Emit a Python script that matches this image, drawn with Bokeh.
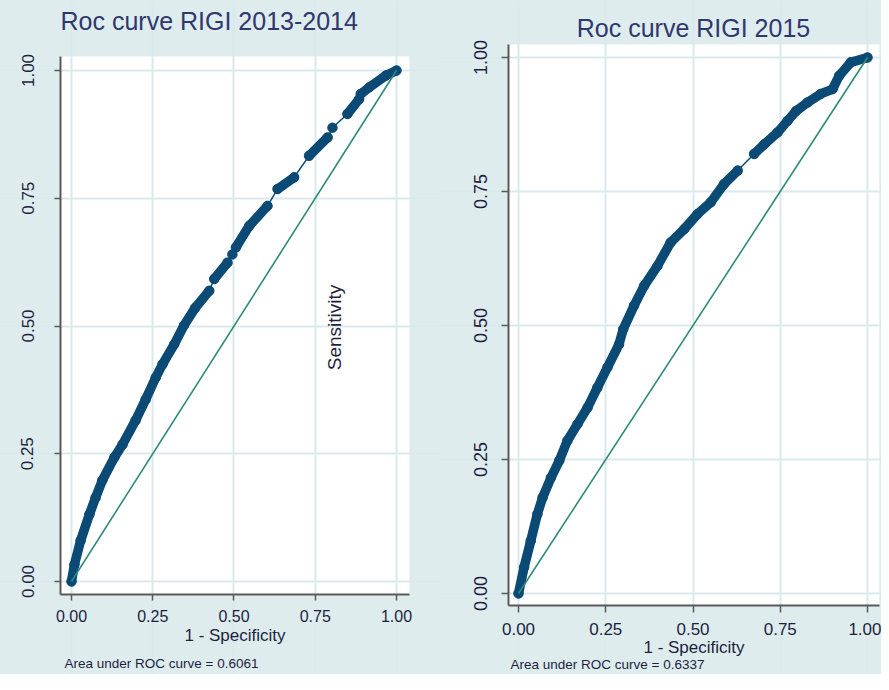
import math
from bokeh.plotting import figure
from bokeh.models import FixedTicker, Label, Range1d, NumeralTickFormatter, BoxAnnotation
from bokeh.layouts import row
from bokeh.embed import file_html
from bokeh.resources import INLINE

# ---------------- data ----------------
ticks = [0.0, 0.25, 0.5, 0.75, 1.0]
tick_labels = ["0.00", "0.25", "0.50", "0.75", "1.00"]

titles = ["Roc curve RIGI 2013-2014", "Roc curve RIGI 2015"]
auc_texts = ["Area under ROC curve = 0.6061", "Area under ROC curve = 0.6337"]
x_title = "1 - Specificity"
y_title = "Sensitivity"

# 2013-2014 ROC curve (1 - specificity, sensitivity)
left_fpr = [0.0, 0.009, 0.028, 0.055, 0.074, 0.095, 0.132, 0.157, 0.197, 0.228,
            0.259, 0.28, 0.316, 0.346, 0.38, 0.424,
            0.439, 0.48,
            0.495,
            0.506, 0.547, 0.603,
            0.634, 0.685,
            0.731, 0.788,
            0.803,
            0.849, 0.885,
            0.89, 0.916, 0.967, 1.0]
left_tpr = [0.0, 0.033, 0.08, 0.131, 0.164, 0.198, 0.243, 0.268, 0.315, 0.356,
            0.399, 0.425, 0.464, 0.501, 0.535, 0.569,
            0.592, 0.624,
            0.64,
            0.654, 0.696, 0.735,
            0.768, 0.791,
            0.833, 0.869,
            0.888,
            0.915, 0.944,
            0.954, 0.967, 0.99, 1.0]
# clusters of overlapping markers (index ranges into the arrays above)
left_runs = [(0, 15), (16, 17), (19, 21), (22, 23), (24, 25), (27, 28), (29, 32)]

# 2015 ROC curve
right_fpr = [0.0, 0.016, 0.035, 0.054, 0.069, 0.093, 0.117, 0.14, 0.169, 0.198,
             0.226, 0.255, 0.288, 0.30, 0.331, 0.36, 0.398, 0.436, 0.475, 0.513,
             0.551, 0.589, 0.628,
             0.675, 0.704, 0.742, 0.771, 0.795, 0.828, 0.866, 0.9, 0.919, 0.952, 1.0]
right_tpr = [0.0, 0.049, 0.098, 0.148, 0.179, 0.216, 0.248, 0.285, 0.316, 0.347,
             0.384, 0.422, 0.465, 0.493, 0.537, 0.574, 0.611, 0.655, 0.68, 0.708,
             0.73, 0.764, 0.789,
             0.82, 0.838, 0.86, 0.882, 0.9, 0.916, 0.932, 0.941, 0.966, 0.991, 1.0]
right_runs = [(0, 22), (23, 33)]

diag = [0.0, 1.0]

# ---------------- style ----------------
BG = "#deecee"
GRID = "#d9e9ec"
NAVY = "#0b4a74"
TEAL = "#2e8b78"
AXIS = "#5a5a5a"
TXT = "#1d1f3f"
TITLE_C = "#30376f"
FONT = "Liberation Sans"
H = 674


def make_panel(width, xr, yr, box_x, box_y, fpr, tpr, runs,
               title, auc, ysz, xsz, ystand, xstand, tick_out, xlab_stand,
               title_pos, title_align, auc_pos, sens=None):
    p = figure(width=width, height=H, x_range=Range1d(*xr), y_range=Range1d(*yr),
               output_backend="svg", toolbar_location=None, title=None,
               min_border_left=0, min_border_right=0, min_border_top=0,
               min_border_bottom=0)
    p.background_fill_color = BG
    p.border_fill_color = BG
    p.outline_line_color = None

    # white plot region
    p.add_layout(BoxAnnotation(left=box_x[0], right=box_x[1], bottom=box_y[0], top=box_y[1],
                               fill_color="white", fill_alpha=1.0, line_color=None,
                               level="image"))

    p.xaxis.fixed_location = box_y[0]
    p.yaxis.fixed_location = box_x[0]
    p.xaxis.bounds = box_x
    p.yaxis.bounds = box_y
    for ax in (p.xaxis[0], p.yaxis[0]):
        ax.ticker = FixedTicker(ticks=ticks)
        ax.formatter = NumeralTickFormatter(format="0.00")
        ax.major_label_overrides = dict(zip(ticks, tick_labels))
        ax.axis_line_color = AXIS
        ax.axis_line_width = 2
        ax.major_tick_line_color = AXIS
        ax.major_tick_line_width = 1.5
        ax.major_tick_out = tick_out
        ax.major_tick_in = 0
        ax.minor_tick_line_color = None
        ax.major_label_text_font = FONT
        ax.major_label_text_color = TXT
    p.yaxis.major_label_orientation = "vertical"
    p.yaxis.major_label_text_font_size = f"{ysz}px"
    p.xaxis.major_label_text_font_size = f"{xsz}px"
    p.yaxis.major_label_standoff = ystand
    p.xaxis.major_label_standoff = xstand
    p.xaxis.axis_label = x_title
    p.xaxis.axis_label_text_font = FONT
    p.xaxis.axis_label_text_font_size = "17px"
    p.xaxis.axis_label_text_font_style = "normal"
    p.xaxis.axis_label_text_color = TXT
    p.xaxis.axis_label_standoff = xlab_stand

    p.grid.grid_line_color = GRID
    p.grid.grid_line_width = 2

    # curve
    p.line(fpr, tpr, line_color=NAVY, line_width=1.5)
    p.multi_line([fpr[a:b + 1] for a, b in runs], [tpr[a:b + 1] for a, b in runs],
                 line_color=NAVY, line_width=9.5, line_cap="round", line_join="round")
    p.scatter(fpr, tpr, size=9.5, fill_color=NAVY, line_color=NAVY)
    # reference line
    p.line(diag, diag, line_color=TEAL, line_width=1.6)

    p.add_layout(Label(x=title_pos[0], y=title_pos[1], x_units="screen", y_units="screen",
                       text=title, text_font=FONT, text_font_size="25px",
                       text_color=TITLE_C, text_align=title_align, text_baseline="middle"))
    p.add_layout(Label(x=auc_pos[0], y=auc_pos[1], x_units="screen", y_units="screen",
                       text=auc, text_font=FONT, text_font_size="13.5px",
                       text_color=TXT, text_align="left", text_baseline="middle"))
    if sens is not None:
        p.add_layout(Label(x=sens[0], y=sens[1], x_units="screen", y_units="screen",
                           text=y_title, text_font=FONT, text_font_size="19px",
                           text_color=TXT, text_align="center", text_baseline="middle",
                           angle=math.pi / 2))
    return p


left = make_panel(439, (-0.21846, 1.13231), (-0.18200, 1.13699),
                  (-0.0338, 1.04), (-0.0254, 1.0274),
                  left_fpr, left_tpr, left_runs, titles[0], auc_texts[0],
                  17, 16, 21, 10, 6, 0,
                  (60, H - 20.5), "left", (64, 11), sens=(334, H - 327))
right = make_panel(442, (-0.22636, 1.04011), (-0.15112, 1.10634),
                   (-0.0287, 1.034), (-0.0224, 1.0243),
                   right_fpr, right_tpr, right_runs, titles[1], auc_texts[1],
                   18, 17, 14, 10, 7, 0,
                   (254, H - 27.5), "center", (71, 10))

layout = row(left, right, spacing=0, styles={"background-color": BG})
open("out.html", "w").write(file_html(layout, INLINE))
